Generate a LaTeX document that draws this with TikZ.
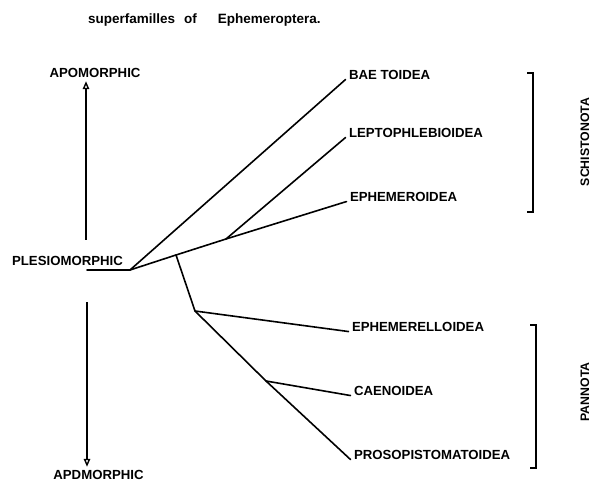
\documentclass[tikz,border=0pt]{standalone}
\usepackage{fontspec}
\setmainfont{Liberation Sans}
\usetikzlibrary{positioning,arrows.meta}

\begin{document}
\begin{tikzpicture}[x=1pt, y=-1pt,
    taxon/.style={anchor=west, font=\bfseries\fontsize{13.2}{16}\selectfont},
    grade/.style={font=\bfseries\fontsize{13.2}{16}\selectfont},
    group/.style={rotate=90, font=\bfseries\fontsize{12.3}{15}\selectfont},
    branch/.style={draw, line width=1.6pt, line cap=round, line join=round},
    bracket/.style={draw, line width=1.2pt},
    axis/.style={draw, line width=1.4pt, -{Triangle[open, length=8pt, width=6.5pt]}}]

    \useasboundingbox (0,0) rectangle (592,481);

    % title
    \node[anchor=base west, inner sep=0pt, font=\bfseries\fontsize{13.5}{16}\selectfont] (title) at (88,24)
        {superfamilles\hspace{9pt}of\hspace{21pt}Ephemeroptera.};

    % character states
    \node[grade] (apotop) at (95,73) {APOMORPHIC};
    \node[grade] (plesio) at (67.5,261) {PLESIOMORPHIC};
    \node[grade] (apobot) at (98.5,475) {APDMORPHIC};
    \coordinate (upfoot) at (86,240);
    \coordinate (downfoot) at (87,302);
    \path[axis] (upfoot) -- (upfoot |- apotop.south);
    \path[axis] (downfoot) -- (downfoot |- apobot.north);

    % superfamilies
    \node[taxon] (baeto) at (345.5,75) {BAE TOIDEA};
    \node[taxon] (lepto) at (345.5,133) {LEPTOPHLEBIOIDEA};
    \node[taxon] (ephem) at (346.5,197) {EPHEMEROIDEA};
    \node[taxon] (ephemerel) at (348.5,327) {EPHEMERELLOIDEA};
    \node[taxon] (caeno) at (350.5,391) {CAENOIDEA};
    \node[taxon] (proso) at (350.5,455) {PROSOPISTOMATOIDEA};

    % branching points
    \coordinate (stem) at (87,270);
    \coordinate (root) at (130,270);
    \coordinate (fork) at (176,255);
    \coordinate (ephfork) at (226,239);
    \coordinate (panfork) at (195,311);
    \coordinate (caefork) at (266,381);

    % the tree
    \path[branch] (stem) -- (root) -- (baeto.base west);
    \path[branch] (root) -- (fork) -- (ephfork) -- (ephem.base west);
    \path[branch] (ephfork) -- (lepto.base west);
    \path[branch] (fork) -- (panfork) -- (ephemerel.base west);
    \path[branch] (panfork) -- (caefork) -- (proso.base west);
    \path[branch] (caefork) -- (caeno.base west);

    % suborders
    \path[bracket] (527,73) -- (533,73) -- (533,212) -- (527,212);
    \path[bracket] (530,325) -- (536,325) -- (536,468) -- (530,468);
    \node[group] (schist) at (585,142) {SCHISTONOTA};
    \node[group] (panno) at (585,392) {PANNOTA};

\end{tikzpicture}
\end{document}
